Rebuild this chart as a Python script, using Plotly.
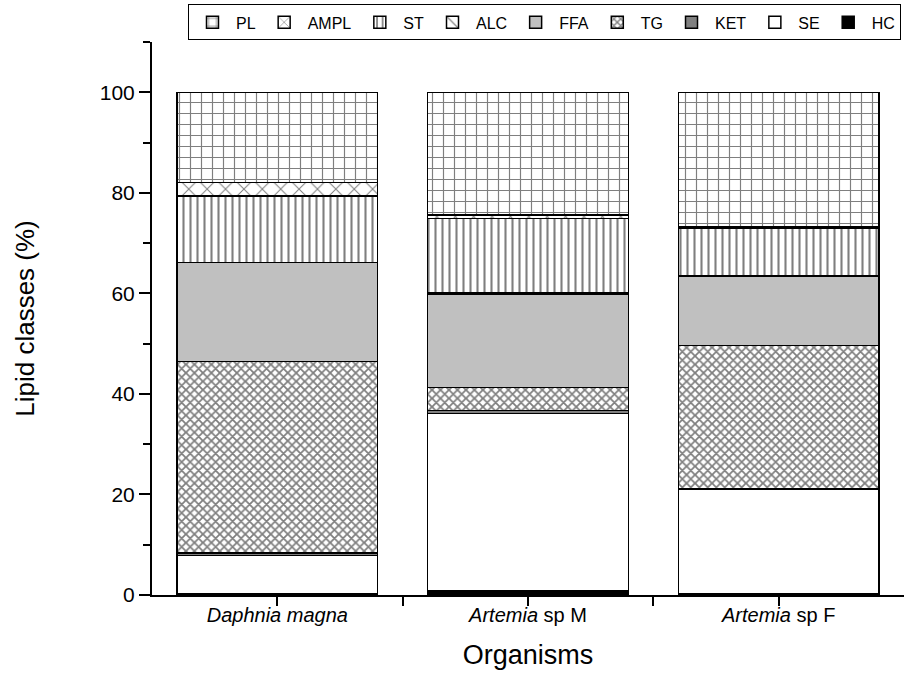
import plotly.graph_objects as go

categories = ["<i>Daphnia magna</i>", "<i>Artemia</i> sp M", "<i>Artemia</i> sp F"]
classes = ["HC", "SE", "KET", "TG", "FFA", "ALC", "ST", "AMPL", "PL"]
HC = [0.2, 0.9, 0.3]
SE = [7.7, 35.2, 20.7]
KET = [0.5, 0.6, 0.2]
TG = [38.0, 4.6, 28.4]
FFA = [19.7, 18.6, 13.9]
ALC = [0.0, 0.3, 0.0]
ST = [13.3, 14.7, 9.5]
AMPL = [2.7, 0.7, 0.3]
PL = [17.9, 24.4, 26.7]
values = {"HC": HC, "SE": SE, "KET": KET, "TG": TG, "FFA": FFA,
          "ALC": ALC, "ST": ST, "AMPL": AMPL, "PL": PL}

styles = {
    "HC": dict(color="black", pattern=dict(shape="")),
    "SE": dict(color="white", pattern=dict(shape="")),
    "KET": dict(color="#808080", pattern=dict(shape="")),
    "TG": dict(color="white", pattern=dict(shape="x", size=6, solidity=0.5, fgcolor="black", bgcolor="white")),
    "FFA": dict(color="#c0c0c0", pattern=dict(shape="")),
    "ALC": dict(color="white", pattern=dict(shape="\\", size=10, solidity=0.15, fgcolor="black", bgcolor="white")),
    "ST": dict(color="white", pattern=dict(shape="|", size=7, solidity=0.3, fgcolor="black", bgcolor="white")),
    "AMPL": dict(color="white", pattern=dict(shape="x", size=13, solidity=0.15, fgcolor="black", bgcolor="white")),
    "PL": dict(color="white", pattern=dict(shape="+", size=11, solidity=0.2, fgcolor="black", bgcolor="white")),
}

xpos = list(range(len(categories)))
fig = go.Figure()
for c in classes:
    st = styles[c]
    fig.add_trace(go.Bar(
        x=xpos, y=values[c], name=c, width=0.8,
        marker=dict(color=st["color"], pattern=st["pattern"],
                    line=dict(color="black", width=1.5)),
    ))

font = "Arial, Liberation Sans, sans-serif"
fig.update_layout(
    barmode="stack",
    width=904, height=677,
    margin=dict(l=152, r=0, t=42, b=82),
    plot_bgcolor="white", paper_bgcolor="white",
    font=dict(family=font, color="black"),
    legend=dict(orientation="h", traceorder="reversed", x=0.996, xanchor="right",
                y=1.068, yanchor="top", bordercolor="black", borderwidth=1,
                font=dict(size=16), itemwidth=37, tracegroupgap=0,
                bgcolor="white"),
    bargap=0.2,
)
fig.update_xaxes(
    range=[-0.5, 2.5], tickvals=xpos, ticktext=categories,
    showline=True, linecolor="black", linewidth=2,
    ticks="outside", ticklen=9, tickwidth=2, tickcolor="black",
    tickfont=dict(size=20), showgrid=False, zeroline=False, ticklabelstandoff=-8,
    minor=dict(tickvals=[0.5, 1.5], ticks="outside", ticklen=9, tickwidth=2, tickcolor="black"),
    title=dict(text="Organisms", font=dict(size=27), standoff=20),
)
fig.update_yaxes(
    range=[0, 110], tickvals=[0, 20, 40, 60, 80, 100],
    showline=True, linecolor="black", linewidth=2,
    ticks="outside", ticklen=11, tickwidth=2, tickcolor="black",
    tickfont=dict(size=21), showgrid=False, zeroline=False,
    minor=dict(tickvals=[10, 30, 50, 70, 90, 110], ticks="outside", ticklen=7, tickwidth=2, tickcolor="black"),
    title=dict(text="Lipid classes (%)", font=dict(size=26), standoff=58),
)
fig.write_html("out.html")
